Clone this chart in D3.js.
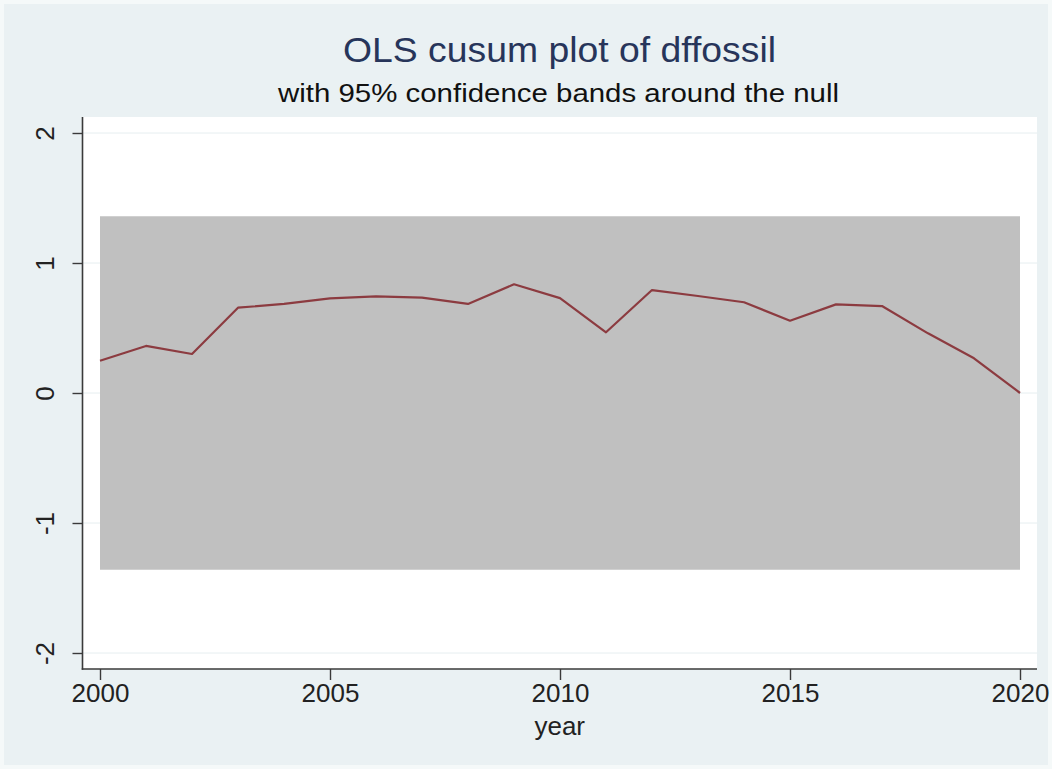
<!DOCTYPE html>
<html>
<head>
<meta charset="utf-8">
<script src="https://cdn.jsdelivr.net/npm/d3@7"></script>
<style>
  html, body { margin: 0; padding: 0; background: #ffffff; }
  svg { display: block; }
  text { font-family: "Liberation Sans", Arial, Helvetica, sans-serif; }
</style>
</head>
<body>
<svg id="chart" width="1052" height="769"></svg>
<script>
// CUSUM of recursive residuals by year
const years = [2000, 2001, 2002, 2003, 2004, 2005, 2006, 2007, 2008, 2009, 2010,
               2011, 2012, 2013, 2014, 2015, 2016, 2017, 2018, 2019, 2020];
const cusum = [0.248, 0.362, 0.300, 0.656, 0.685, 0.728, 0.744, 0.733, 0.685, 0.836, 0.730,
               0.467, 0.792, 0.746, 0.698, 0.556, 0.682, 0.669, 0.459, 0.267, 0.000];
// 95% confidence band around zero
const bandLower = [-1.36, -1.36];
const bandUpper = [1.36, 1.36];
const bandYears = [2000, 2020];

const xTicks = [2000, 2005, 2010, 2015, 2020];
const yTicks = [-2, -1, 0, 1, 2];

const titleText = "OLS cusum plot of dffossil";
const subtitleText = "with 95% confidence bands around the null";
const xTitle = "year";

const W = 1052, H = 769;
const plot = { left: 82.5, right: 1037, top: 117, bottom: 669 };

// plain hyphen-minus tick labels
const fmt = d => String(d);

const svg = d3.select("#chart");

// page background with thin light frame
svg.append("rect").attr("x", 0).attr("y", 0).attr("width", W).attr("height", H).attr("fill", "#f5f9f9");
svg.append("rect").attr("x", 4).attr("y", 4).attr("width", W - 8).attr("height", H - 8).attr("fill", "#eaf1f3");

// plot region
svg.append("rect")
  .attr("x", plot.left).attr("y", plot.top)
  .attr("width", plot.right - plot.left).attr("height", plot.bottom - plot.top)
  .attr("fill", "#ffffff");

const x = d3.scaleLinear().domain([2000, 2020]).range([100, 1020]);
const y = d3.scaleLinear().domain([-2, 2]).range([653, 133]);

// horizontal gridlines
svg.append("g").selectAll("line").data(yTicks).join("line")
  .attr("x1", plot.left).attr("x2", plot.right)
  .attr("y1", d => y(d)).attr("y2", d => y(d))
  .attr("stroke", "#e6eef0").attr("stroke-width", 1);

// confidence band
const band = bandYears.map((yr, i) => ({ yr, lo: bandLower[i], hi: bandUpper[i] }));
svg.append("path")
  .datum(band)
  .attr("fill", "#c0c0c0")
  .attr("d", d3.area().x(d => x(d.yr)).y0(d => y(d.lo)).y1(d => y(d.hi)));

// cusum line
const pts = years.map((yr, i) => ({ yr, v: cusum[i] }));
svg.append("path")
  .datum(pts)
  .attr("fill", "none")
  .attr("stroke", "#8c3b40")
  .attr("stroke-width", 2.2)
  .attr("stroke-linejoin", "round")
  .attr("d", d3.line().x(d => x(d.yr)).y(d => y(d.v)));

// y axis
const yAxis = svg.append("g")
  .attr("transform", `translate(${plot.left},0)`)
  .call(d3.axisLeft(y).tickValues(yTicks).tickSize(10).tickPadding(0).tickFormat(fmt));
yAxis.select(".domain").remove();
yAxis.selectAll(".tick line").attr("stroke", "#3a3a3a").attr("stroke-width", 1.4);
yAxis.selectAll(".tick text")
  .attr("x", 0).attr("dy", null)
  .attr("transform", "translate(-38,0) rotate(-90)")
  .attr("text-anchor", "middle")
  .attr("dominant-baseline", "central")
  .attr("font-size", 26)
  .attr("fill", "#222");
svg.append("line")
  .attr("x1", plot.left).attr("x2", plot.left)
  .attr("y1", plot.top).attr("y2", plot.bottom + 0.7)
  .attr("stroke", "#3a3a3a").attr("stroke-width", 1.6);

// x axis
const xAxis = svg.append("g")
  .attr("transform", `translate(0,${plot.bottom})`)
  .call(d3.axisBottom(x).tickValues(xTicks).tickSize(11).tickPadding(4).tickFormat(fmt));
xAxis.select(".domain").remove();
xAxis.selectAll(".tick line").attr("stroke", "#3a3a3a").attr("stroke-width", 1.4);
xAxis.selectAll(".tick text")
  .attr("font-size", 26)
  .attr("fill", "#222");
svg.append("line")
  .attr("x1", plot.left - 0.8).attr("x2", plot.right)
  .attr("y1", plot.bottom).attr("y2", plot.bottom)
  .attr("stroke", "#3a3a3a").attr("stroke-width", 1.6);

// axis title
svg.append("text")
  .attr("x", (plot.left + plot.right) / 2).attr("y", 735)
  .attr("text-anchor", "middle")
  .attr("font-size", 26)
  .attr("fill", "#222")
  .text(xTitle);

// titles
svg.append("text")
  .attr("x", 559.5).attr("y", 62)
  .attr("text-anchor", "middle")
  .attr("font-size", 35)
  .attr("fill", "#27355a")
  .attr("textLength", 433).attr("lengthAdjust", "spacingAndGlyphs")
  .text(titleText);
svg.append("text")
  .attr("x", 558.5).attr("y", 102)
  .attr("text-anchor", "middle")
  .attr("font-size", 26)
  .attr("fill", "#111")
  .attr("textLength", 561).attr("lengthAdjust", "spacingAndGlyphs")
  .text(subtitleText);
</script>
</body>
</html>
